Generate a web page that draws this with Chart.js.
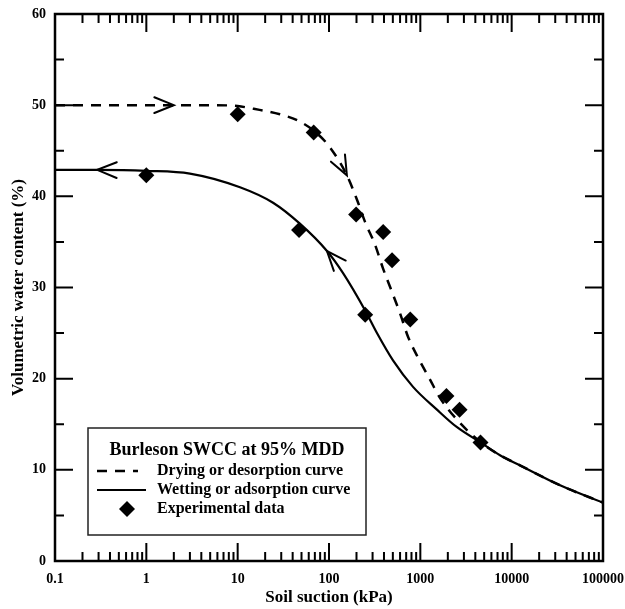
<!DOCTYPE html>
<html>
<head>
<meta charset="utf-8">
<script src="https://cdn.jsdelivr.net/npm/chart.js@4"></script>
<style>
  html, body { margin: 0; padding: 0; background: #ffffff; }
  #c { display: block; }
</style>
</head>
<body>
<canvas id="c" width="625" height="609"></canvas>
<script>
// Axis ticks
const decadeTicks = [0.1, 1, 10, 100, 1000, 10000, 100000];
const decadeLabels = ['0.1', '1', '10', '100', '1000', '10000', '100000'];
const waterTicks = [0, 10, 20, 30, 40, 50, 60];

// Drying (desorption) branch of the SWCC
const dryingSuction = [0.1, 1, 2, 5, 10, 15, 29, 48, 70, 102, 157, 203, 248, 319, 390, 490, 598, 733, 944, 1277, 1640, 2520, 4730, 7450, 12300, 33900, 100000];
const dryingWater   = [50, 50, 50, 50, 49.9, 49.6, 49.0, 48.2, 47.1, 45.4, 42.3, 39.6, 37.2, 34.7, 32.1, 29.5, 27.2, 24.6, 22.3, 19.9, 17.9, 15.5, 12.9, 11.6, 10.5, 8.3, 6.4];

// Wetting (adsorption) branch of the SWCC
const wettingSuction = [0.1, 0.29, 1, 3, 10.6, 24.4, 48, 95, 142, 248, 335, 502, 832, 1520, 2500, 4730, 7450, 12300, 33900, 100000];
const wettingWater   = [42.9, 42.9, 42.8, 42.5, 41.0, 39.3, 37.0, 34.0, 31.6, 27.5, 25.0, 22.0, 19.1, 16.6, 14.7, 12.9, 11.6, 10.5, 8.3, 6.4];

// Measured points
const expSuction = [1, 10, 68, 47, 198, 392, 490, 249, 776, 1930, 2690, 4560];
const expWater   = [42.3, 49.0, 47.0, 36.3, 38.0, 36.1, 33.0, 27.0, 26.5, 18.1, 16.6, 13.0];

// Suction values where direction arrows sit on each branch
const dryingArrowAt = [2, 157];
const wettingArrowAt = [0.29, 95];

const SERIF = '"Liberation Serif", "DejaVu Serif", serif';

const toXY = (xs, ys) => xs.map((x, i) => ({ x: x, y: ys[i] }));

// White page background
const bgPlugin = {
  id: 'bg',
  beforeDraw(chart) {
    const ctx = chart.ctx;
    ctx.save();
    ctx.fillStyle = '#ffffff';
    ctx.fillRect(0, 0, chart.width, chart.height);
    ctx.restore();
  }
};

// Box frame with inward major/minor ticks on all four sides
const framePlugin = {
  id: 'frame',
  afterDatasetsDraw(chart) {
    const ctx = chart.ctx, a = chart.chartArea;
    const xs = chart.scales.x, ys = chart.scales.y;
    const major = 18, minor = 9;
    ctx.save();
    ctx.strokeStyle = '#000';
    ctx.lineWidth = 2;
    ctx.lineCap = 'butt';
    const vTick = (px, len) => {
      ctx.beginPath();
      ctx.moveTo(px, a.bottom); ctx.lineTo(px, a.bottom - len);
      ctx.moveTo(px, a.top); ctx.lineTo(px, a.top + len);
      ctx.stroke();
    };
    const hTick = (py, len) => {
      ctx.beginPath();
      ctx.moveTo(a.left, py); ctx.lineTo(a.left + len, py);
      ctx.moveTo(a.right, py); ctx.lineTo(a.right - len, py);
      ctx.stroke();
    };
    decadeTicks.forEach((d, i) => {
      vTick(xs.getPixelForValue(d), major);
      if (i < decadeTicks.length - 1) {
        for (let m = 2; m <= 9; m++) vTick(xs.getPixelForValue(m * d), minor);
      }
    });
    waterTicks.forEach((v, i) => {
      hTick(ys.getPixelForValue(v), major);
      if (i < waterTicks.length - 1) hTick(ys.getPixelForValue((v + waterTicks[i + 1]) / 2), minor);
    });
    ctx.lineWidth = 2.5;
    ctx.strokeRect(a.left, a.top, a.right - a.left, a.bottom - a.top);
    ctx.restore();
  }
};

// Open arrowheads showing the direction of travel along each branch
const arrowPlugin = {
  id: 'arrows',
  afterDatasetsDraw(chart) {
    const ctx = chart.ctx;
    const specs = [
      { ds: 0, at: dryingArrowAt, xs: dryingSuction, sign: 1 },
      { ds: 1, at: wettingArrowAt, xs: wettingSuction, sign: -1 }
    ];
    const L = 21, ang = 22 * Math.PI / 180;
    ctx.save();
    ctx.strokeStyle = '#000';
    ctx.lineWidth = 2;
    ctx.lineCap = 'round';
    ctx.lineJoin = 'miter';
    specs.forEach(s => {
      const pts = chart.getDatasetMeta(s.ds).data;
      s.at.forEach(v => {
        const i = s.xs.indexOf(v);
        if (i < 1 || i >= pts.length - 1) return;
        const p = pts[i], a = pts[i - 1], b = pts[i + 1];
        let dx = (b.x - a.x) * s.sign, dy = (b.y - a.y) * s.sign;
        const n = Math.hypot(dx, dy); dx /= n; dy /= n;
        const back = Math.atan2(-dy, -dx);
        ctx.beginPath();
        ctx.moveTo(p.x + L * Math.cos(back + ang), p.y + L * Math.sin(back + ang));
        ctx.lineTo(p.x, p.y);
        ctx.lineTo(p.x + L * Math.cos(back - ang), p.y + L * Math.sin(back - ang));
        ctx.stroke();
      });
    });
    ctx.restore();
  }
};

// Boxed legend in the lower-left of the plot
const legendBoxPlugin = {
  id: 'legendBox',
  afterDraw(chart) {
    const ctx = chart.ctx, a = chart.chartArea;
    const ds = chart.data.datasets;
    const left = a.left + 33, width = 278, height = 107;
    const top = a.bottom - 26 - height;
    ctx.save();
    ctx.fillStyle = '#ffffff';
    ctx.fillRect(left, top, width, height);
    ctx.strokeStyle = '#222';
    ctx.lineWidth = 1.5;
    ctx.strokeRect(left, top, width, height);

    ctx.fillStyle = '#000';
    ctx.textBaseline = 'middle';
    ctx.textAlign = 'center';
    ctx.font = 'bold 18px ' + SERIF;
    ctx.fillText('Burleson SWCC at 95% MDD', left + width / 2, top + 22);

    ctx.textAlign = 'left';
    ctx.font = 'bold 16px ' + SERIF;
    const rows = [top + 43, top + 62, top + 81];
    const sx0 = left + 9, sx1 = left + 62, tx = left + 69;
    // dashed sample
    ctx.strokeStyle = '#000';
    ctx.lineWidth = ds[0].borderWidth;
    ctx.setLineDash(ds[0].borderDash);
    ctx.beginPath(); ctx.moveTo(sx0, rows[0]); ctx.lineTo(sx1 - 12, rows[0]); ctx.stroke();
    ctx.setLineDash([]);
    ctx.fillText(ds[0].label, tx, rows[0]);
    // solid sample
    ctx.lineWidth = ds[1].borderWidth;
    ctx.beginPath(); ctx.moveTo(sx0, rows[1]); ctx.lineTo(sx1 - 4, rows[1]); ctx.stroke();
    ctx.fillText(ds[1].label, tx, rows[1]);
    // marker sample
    const r = ds[2].pointRadius, cx = left + 39, cy = rows[2];
    ctx.beginPath();
    ctx.moveTo(cx - r, cy); ctx.lineTo(cx, cy - r); ctx.lineTo(cx + r, cy); ctx.lineTo(cx, cy + r);
    ctx.closePath(); ctx.fill();
    ctx.fillText(ds[2].label, tx, rows[2]);
    ctx.restore();
  }
};

new Chart(document.getElementById('c'), {
  type: 'scatter',
  data: {
    datasets: [
      {
        type: 'line',
        label: 'Drying or desorption curve',
        data: toXY(dryingSuction, dryingWater),
        borderColor: '#000',
        borderWidth: 2.5,
        borderDash: [10, 8],
        pointRadius: 0,
        fill: false,
        cubicInterpolationMode: 'monotone'
      },
      {
        type: 'line',
        label: 'Wetting or adsorption curve',
        data: toXY(wettingSuction, wettingWater),
        borderColor: '#000',
        borderWidth: 2.2,
        pointRadius: 0,
        fill: false,
        cubicInterpolationMode: 'monotone'
      },
      {
        label: 'Experimental data',
        data: toXY(expSuction, expWater),
        showLine: false,
        pointStyle: 'rectRot',
        pointRadius: 8,
        backgroundColor: '#000',
        borderColor: '#000',
        borderWidth: 0
      }
    ]
  },
  options: {
    responsive: false,
    animation: false,
    devicePixelRatio: 1,
    layout: { padding: { left: 0, right: 22, top: 14, bottom: 0 } },
    plugins: {
      legend: { display: false },
      tooltip: { enabled: false }
    },
    scales: {
      x: {
        type: 'logarithmic',
        min: 0.1,
        max: 100000,
        afterBuildTicks: s => { s.ticks = decadeTicks.map(v => ({ value: v })); },
        afterFit: s => { s.height = 48; s.paddingLeft = 0; s.paddingRight = 0; },
        grid: { display: false, drawTicks: false },
        border: { display: false },
        ticks: {
          autoSkip: false,
          maxRotation: 0,
          padding: 10,
          color: '#000',
          font: { family: SERIF, size: 14, weight: 'bold' },
          callback: (v, i) => decadeLabels[i]
        },
        title: {
          display: true,
          text: 'Soil suction (kPa)',
          color: '#000',
          font: { family: SERIF, size: 17, weight: 'bold' },
          padding: { top: 0, bottom: 1 }
        }
      },
      y: {
        min: 0,
        max: 60,
        afterBuildTicks: s => { s.ticks = waterTicks.map(v => ({ value: v })); },
        afterFit: s => { s.width = 55; s.paddingTop = 0; s.paddingBottom = 0; },
        grid: { display: false, drawTicks: false },
        border: { display: false },
        ticks: {
          padding: 9,
          color: '#000',
          font: { family: SERIF, size: 14, weight: 'bold' }
        },
        title: {
          display: true,
          text: 'Volumetric water content (%)',
          color: '#000',
          font: { family: SERIF, size: 17, weight: 'bold' },
          padding: { top: 8, bottom: 0 }
        }
      }
    }
  },
  plugins: [bgPlugin, framePlugin, arrowPlugin, legendBoxPlugin]
});
</script>
</body>
</html>
